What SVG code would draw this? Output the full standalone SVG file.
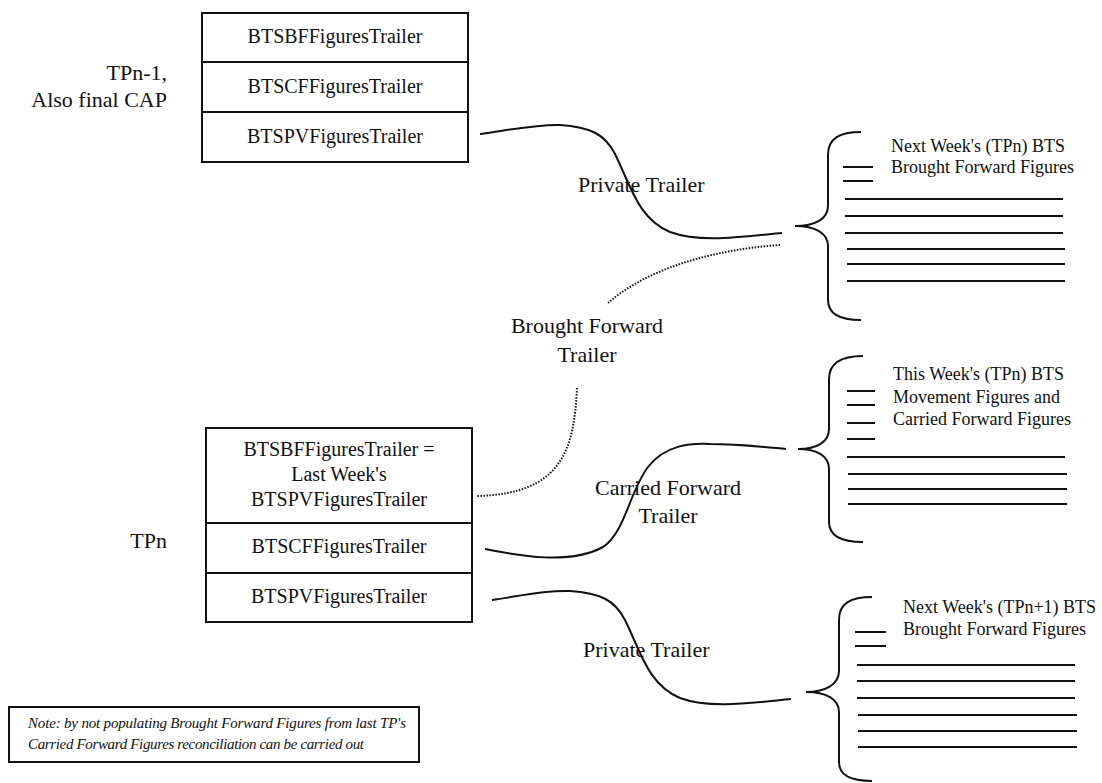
<svg xmlns="http://www.w3.org/2000/svg" width="1102" height="783" viewBox="0 0 1102 783" font-family="'Liberation Serif', 'Times New Roman', serif">
  <style>
    text { font-family: "Liberation Serif", "Times New Roman", serif; fill: #111; }
    .cell { font-size: 20px; text-anchor: middle; }
    .label { font-size: 22px; }
    .side { font-size: 22px; text-anchor: end; }
    .mid { text-anchor: middle; }
    .small { font-size: 18px; }
    .note { font-size: 15px; font-style: italic; }
    .box { fill: #fff; stroke: #111; stroke-width: 2; }
    .rule { stroke: #111; stroke-width: 2; fill: none; }
    .wire { stroke: #111; stroke-width: 2; fill: none; }
    .dots { stroke: #111; stroke-width: 2; fill: none; stroke-dasharray: 1.5 1.5; }
    .brace { stroke: #111; stroke-width: 2; fill: none; }
  </style>
  <rect width="1102" height="783" fill="#fff"/>

  <!-- previous period trailer stack -->
  <g id="tpn-1">
    <rect class="box" x="202" y="13" width="266" height="149"/>
    <line class="rule" x1="202" y1="62" x2="468" y2="62"/>
    <line class="rule" x1="202" y1="112" x2="468" y2="112"/>
    <text class="cell" x="335" y="43">BTSBFFiguresTrailer</text>
    <text class="cell" x="335" y="93">BTSCFFiguresTrailer</text>
    <text class="cell" x="335" y="143">BTSPVFiguresTrailer</text>
    <text class="side" x="167" y="80">TPn-1,</text>
    <text class="side" x="167" y="107">Also final CAP</text>
  </g>

  <!-- current period trailer stack -->
  <g id="tpn">
    <rect class="box" x="206" y="428" width="266" height="194"/>
    <line class="rule" x1="206" y1="523" x2="472" y2="523"/>
    <line class="rule" x1="206" y1="573" x2="472" y2="573"/>
    <text class="cell" x="339" y="456">BTSBFFiguresTrailer =</text>
    <text class="cell" x="339" y="481">Last Week's</text>
    <text class="cell" x="339" y="506">BTSPVFiguresTrailer</text>
    <text class="cell" x="339" y="553">BTSCFFiguresTrailer</text>
    <text class="cell" x="339" y="603">BTSPVFiguresTrailer</text>
    <text class="side" x="167" y="548">TPn</text>
  </g>

  <!-- record block: next week's brought forward (TPn) -->
  <g id="bf-tpn">
    <path class="brace" d="M861,132 C840,132 828,138 828,155 L828,206 C828,219 815,226 795,226 C815,226 828,233 828,246 L828,300 C828,314 840,320 861,320"/>
    <text class="small" x="891" y="152">Next Week's (TPn) BTS</text>
    <text class="small" x="891" y="173">Brought Forward Figures</text>
    <g class="rule">
      <line x1="843" y1="167" x2="873" y2="167"/>
      <line x1="843" y1="181" x2="873" y2="181"/>
      <line x1="845" y1="199" x2="1063" y2="199"/>
      <line x1="845" y1="216" x2="1063" y2="216"/>
      <line x1="845" y1="233" x2="1063" y2="233"/>
      <line x1="847" y1="249" x2="1065" y2="249"/>
      <line x1="847" y1="264" x2="1065" y2="264"/>
      <line x1="847" y1="281" x2="1065" y2="281"/>
    </g>
  </g>

  <!-- record block: this week's movement and carried forward -->
  <g id="cf-tpn">
    <path class="brace" d="M863,356 C842,356 829,362 829,379 L829,429 C829,442 817,449 798,449 C817,449 829,456 829,469 L829,522 C829,536 842,542 863,542"/>
    <text class="small" x="893" y="380">This Week's (TPn) BTS</text>
    <text class="small" x="893" y="403">Movement Figures and</text>
    <text class="small" x="893" y="425">Carried Forward Figures</text>
    <g class="rule">
      <line x1="847" y1="391" x2="875" y2="391"/>
      <line x1="847" y1="405" x2="875" y2="405"/>
      <line x1="847" y1="423" x2="875" y2="423"/>
      <line x1="847" y1="439" x2="875" y2="439"/>
      <line x1="847" y1="457" x2="1065" y2="457"/>
      <line x1="848" y1="474" x2="1067" y2="474"/>
      <line x1="848" y1="489" x2="1067" y2="489"/>
      <line x1="848" y1="504" x2="1067" y2="504"/>
    </g>
  </g>

  <!-- record block: next week's brought forward (TPn+1) -->
  <g id="bf-tpn1">
    <path class="brace" d="M872,597 C851,597 839,603 839,620 L839,671 C839,684 826,692 806,692 C826,692 839,699 839,712 L839,762 C839,776 851,781 872,781"/>
    <text class="small" x="903" y="613">Next Week's (TPn+1) BTS</text>
    <text class="small" x="903" y="635">Brought Forward Figures</text>
    <g class="rule">
      <line x1="855" y1="632" x2="886" y2="632"/>
      <line x1="855" y1="646" x2="886" y2="646"/>
      <line x1="857" y1="665" x2="1075" y2="665"/>
      <line x1="857" y1="681" x2="1075" y2="681"/>
      <line x1="857" y1="698" x2="1075" y2="698"/>
      <line x1="858" y1="715" x2="1077" y2="715"/>
      <line x1="858" y1="731" x2="1077" y2="731"/>
      <line x1="858" y1="747" x2="1077" y2="747"/>
    </g>
  </g>

  <!-- explanatory note -->
  <g id="note">
    <rect class="box" x="9" y="707" width="410" height="55"/>
    <text class="note" x="28" y="728" textLength="378">Note: by not populating Brought Forward Figures from last TP's</text>
    <text class="note" x="28" y="749" textLength="336">Carried Forward Figures reconciliation can be carried out</text>
  </g>

  <!-- trailer flows -->
  <g id="connectors">
    <path class="wire" d="M480,134 C515,129 540,124 560,125 C590,127 605,134 615,154 C630,184 638,219 670,232 C700,243 740,237 782,233"/>
    <text class="label" x="578" y="192">Private Trailer</text>

    <path class="dots" d="M780,245 C720,249 650,266 608,303"/>
    <path class="dots" d="M577,388 C574,450 562,494 477,496"/>
    <text class="label mid" x="587" y="333">Brought Forward</text>
    <text class="label mid" x="587" y="362">Trailer</text>

    <path class="wire" d="M485,549 C520,556 570,565 603,547 C625,533 630,490 648,467 C665,445 690,443 710,444 C740,444 765,447 786,449"/>
    <text class="label mid" x="668" y="495">Carried Forward</text>
    <text class="label mid" x="668" y="523">Trailer</text>

    <path class="wire" d="M492,600 C525,595 550,590 570,591 C600,593 615,600 625,620 C640,650 648,685 680,698 C710,709 750,703 791,699"/>
    <text class="label" x="583" y="657">Private Trailer</text>
  </g>
</svg>
